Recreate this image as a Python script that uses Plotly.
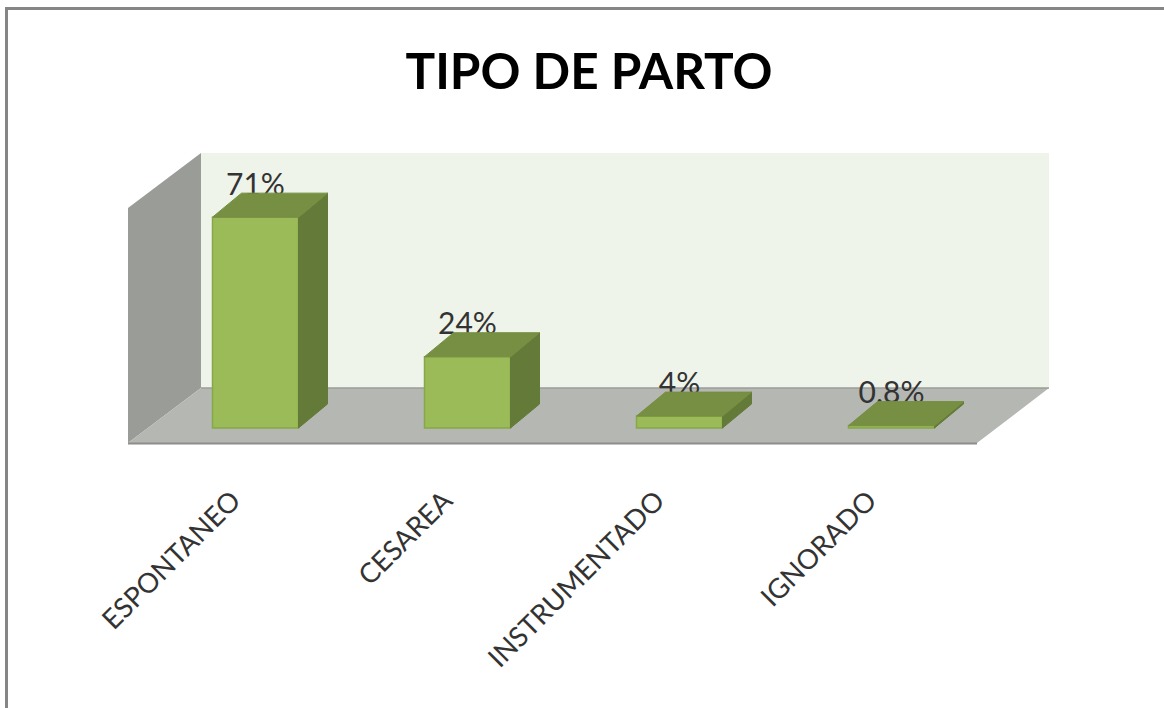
import plotly.graph_objects as go

categories = ["ESPONTANEO", "CESAREA", "INSTRUMENTADO", "IGNORADO"]
values = [71, 24, 4, 0.8]
value_labels = ["71%", "24%", "4%", "0.8%"]
title_text = "TIPO DE PARTO"

W, H = 1164, 708
L, R, T, B = 120, 1060, 140, 450     # plot area in pixels
X0, XS = 255.5, 212.0                # pixel of category 0, px per category
Y0, YS = 428.0, 2.97                 # pixel of value 0, px per value unit
BAR_W = 86 / XS
DX, DY = 29 / XS, 24 / YS            # 3-D depth in data units
LABEL_UP = 30 / YS
TICK_SHIFT = -23 / XS

FRONT, TOP, SIDE = "#9BBB59", "#778F42", "#647A38"
EDGE = "#86A84A"
BACK_WALL, LEFT_WALL, FLOOR = "#EEF4EA", "#9A9C98", "#B5B7B3"

def xd(px):
    return (px - X0) / XS

def yd(py):
    return (Y0 - py) / YS

def xp(px):
    return (px - L) / (R - L)

def yp(py):
    return (B - py) / (B - T)

def poly(points, fill, line=None, width=0):
    path = "M" + " L".join(f"{xd(a):.4f},{yd(b):.4f}" for a, b in points) + " Z"
    return dict(type="path", path=path, xref="x", yref="y", layer="below",
                fillcolor=fill, line=dict(color=line or fill, width=width))

shapes = [
    poly([(201, 153), (1049, 153), (1049, 388), (201, 388)], BACK_WALL),
    poly([(128, 208), (201, 153), (201, 388), (128, 443)], LEFT_WALL),
    poly([(128, 443), (201, 388), (1049, 388), (977, 443)], FLOOR),
    dict(type="line", xref="x", yref="y", layer="below",
         x0=xd(201), y0=yd(388), x1=xd(1049), y1=yd(388), line=dict(color="#9A9C98", width=1.5)),
    dict(type="line", xref="x", yref="y", layer="below",
         x0=xd(128), y0=yd(443.5), x1=xd(977), y1=yd(443.5), line=dict(color="#8C8E8A", width=2)),
    dict(type="line", xref="paper", yref="paper",
         x0=xp(6.5), y0=yp(708), x1=xp(6.5), y1=yp(8.5), line=dict(color="#868686", width=3)),
    dict(type="line", xref="paper", yref="paper",
         x0=xp(5), y0=yp(8.5), x1=xp(1164), y1=yp(8.5), line=dict(color="#868686", width=3)),
]

xs = list(range(len(categories)))
fig = go.Figure()

fig.add_trace(go.Bar(x=xs, y=values, width=BAR_W, marker=dict(color=FRONT, line=dict(color=EDGE, width=1.5)),
                     hoverinfo="skip", showlegend=False))

fig.add_trace(go.Scatter(x=xs, y=[v + LABEL_UP for v in values], mode="text", text=value_labels,
                         textposition="middle center",
                         textfont=dict(family="Lato", size=30, color="#333333"),
                         hoverinfo="skip", showlegend=False))

for i, v in zip(xs, values):
    a, b = i - BAR_W / 2, i + BAR_W / 2
    fig.add_trace(go.Scatter(x=[b, b + DX, b + DX, b, b], y=[0, DY, v + DY, v, 0], mode="lines",
                             fill="toself", fillcolor=SIDE, line=dict(color=SIDE, width=1),
                             hoverinfo="skip", showlegend=False))
    fig.add_trace(go.Scatter(x=[a, b, b + DX, a + DX, a], y=[v, v, v + DY, v + DY, v], mode="lines",
                             fill="toself", fillcolor=TOP, line=dict(color=TOP, width=1),
                             hoverinfo="skip", showlegend=False))

fig.update_layout(
    width=W, height=H, autosize=False,
    margin=dict(l=L, r=W - R, t=T, b=H - B, pad=0),
    paper_bgcolor="white", plot_bgcolor="rgba(0,0,0,0)",
    title=dict(text=f"<b>{title_text}</b>", x=589 / W, xanchor="center", y=1 - 72 / H, yanchor="middle",
               font=dict(family="Lato", size=49.5, color="#000000")),
    shapes=shapes,
    xaxis=dict(range=[xd(L), xd(R)], tickmode="array", tickvals=[x + TICK_SHIFT for x in xs],
               ticktext=categories, tickangle=-45,
               showgrid=False, zeroline=False, showline=False, ticks="", ticklabelstandoff=28,
               tickfont=dict(family="Lato", size=27.5, color="#333333")),
    yaxis=dict(range=[yd(B), yd(T)], visible=False, showgrid=False, zeroline=False),
)

fig.write_html("out.html", config={"displayModeBar": False},
               post_script="document.body.style.margin='0';document.body.style.overflow='hidden';")
